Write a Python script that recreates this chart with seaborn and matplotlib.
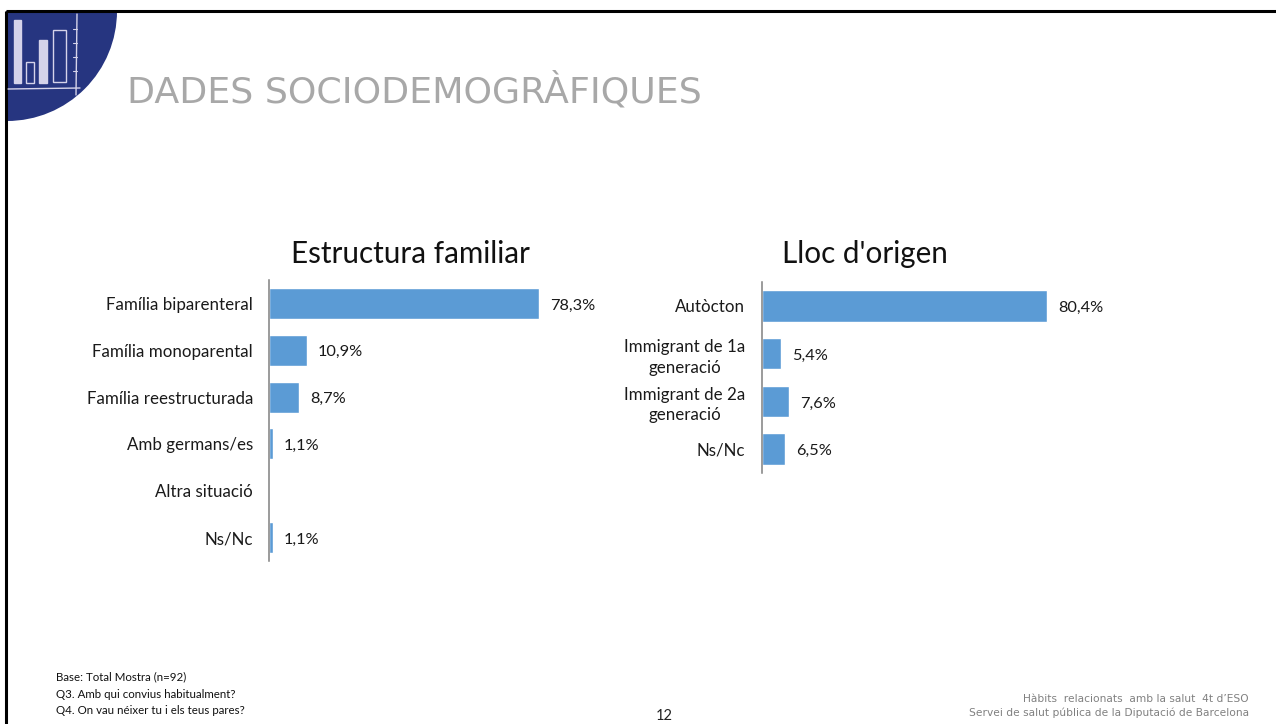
import matplotlib
matplotlib.use("Agg")
import matplotlib.pyplot as plt
from matplotlib.patches import Circle, Rectangle
import numpy as np
import pandas as pd
import seaborn as sns

familia_categories = ["Família biparenteral", "Família monoparental", "Família reestructurada",
                      "Amb germans/es", "Altra situació", "Ns/Nc"]
familia_values = [78.3, 10.9, 8.7, 1.1, np.nan, 1.1]
origen_categories = ["Autòcton", "Immigrant de 1a\ngeneració", "Immigrant de 2a\ngeneració", "Ns/Nc"]
origen_values = [80.4, 5.4, 7.6, 6.5]
title_text = "DADES SOCIODEMOGRÀFIQUES"
notes = ["Base: Total Mostra (n=92)", "Q3. Amb qui convius habitualment?", "Q4. On vau néixer tu i els teus pares?"]
footer = ["Hàbits  relacionats  amb la salut  4t d’ESO", "Servei de salut pública de la Diputació de Barcelona"]

W, H = 1276, 724
BAR = "#5B9BD5"
sns.set_theme(style="white")
plt.rcParams["font.family"] = ["Lato", "DejaVu Sans"]
fig = plt.figure(figsize=(W/100, H/100), dpi=100, facecolor="white")

def axes_px(x0, y0, x1, y1):
    return fig.add_axes([x0/W, 1-y1/H, (x1-x0)/W, (y1-y0)/H])

def chart(cats, vals, box, xmax, title, title_x, pad):
    ax = axes_px(*box)
    df = pd.DataFrame({"cat": cats, "val": vals})
    sns.barplot(data=df, y="cat", x="val", color=BAR, saturation=1, width=0.66, ax=ax, orient="h")
    ax.set_xlim(0, xmax)
    ax.set_ylim(len(cats)-0.5, -0.5)
    ax.set_xlabel(""); ax.set_ylabel("")
    ax.xaxis.set_visible(False)
    ax.patch.set_alpha(0)
    for s in ["top", "right", "bottom"]:
        ax.spines[s].set_visible(False)
    ax.spines["left"].set_color("#808080")
    ax.spines["left"].set_linewidth(1.1)
    ax.tick_params(axis="y", length=0, pad=pad, labelsize=12.2, labelcolor="#1a1a1a")
    for lab in ax.get_yticklabels():
        lab.set_horizontalalignment("right")
        lab.set_multialignment("center")
        lab.set_linespacing(1.35)
    for i, v in enumerate(vals):
        if not np.isnan(v):
            ax.annotate(f"{v:.1f}%".replace(".", ","), (v, i), xytext=(8, -1.5), textcoords="offset points",
                        va="center", ha="left", fontsize=11.8, color="#1a1a1a")
    fig.text(title_x/W, 1-254/H, title, fontsize=21.3, va="center", ha="left", color="#111111")
    return ax

chart(familia_categories, familia_values, (269, 280, 594, 561), 325/3.45, "Estructura familiar", 291, 11.5)
chart(origen_categories, origen_values, (762, 282, 1110, 473), 348/3.545, "Lloc d'origen", 782, 12.2)

# slide frame and logo in pixel coordinates
bg = fig.add_axes([0, 0, 1, 1], zorder=-1)
bg.set_xlim(0, W); bg.set_ylim(H, 0); bg.axis("off")
clip = Rectangle((6, 11), 200, 200, transform=bg.transData)
c = Circle((7, 11), 110, fc="#263580", ec="none", zorder=2)
bg.add_patch(c); c.set_clip_path(clip)
bg.plot([6, 6], [11, H], color="black", lw=2.2, zorder=3, solid_capstyle="butt")
bg.plot([6, W], [11, 11], color="black", lw=2.2, zorder=3, solid_capstyle="butt")
for x0, y0, x1, y1, fill in [(14, 20, 21, 83, True), (26, 62, 34, 83, False), (39, 40, 47, 83, True), (53, 30, 66, 82, False)]:
    bg.add_patch(Rectangle((x0, y0), x1-x0, y1-y0, fc="#D5D3EA" if fill else "none", ec="#D5D3EA", lw=1.0, zorder=4))
bg.plot([8, 80], [89, 88], color="#D5D3EA", lw=1, zorder=4)
bg.plot([77, 76], [14, 95], color="#D5D3EA", lw=1, zorder=4)
for y in [29, 43, 57, 71]:
    bg.plot([73, 77], [y, y], color="#D5D3EA", lw=0.8, zorder=4)

bg.text(127, 91, title_text, fontsize=26.2, family="DejaVu Sans", color="#A8A8A8", va="center", ha="left", zorder=5)
for y, t in zip([677, 694, 710], notes):
    bg.text(56, y, t, fontsize=8.25, color="#111111", va="center", ha="left", zorder=5)
bg.text(664, 716, "12", fontsize=10.5, color="#222222", va="center", ha="center", zorder=5)
for y, t in zip([699, 713], footer):
    bg.text(1249, y, t, fontsize=7.65, family="DejaVu Sans", color="#808080", va="center", ha="right", zorder=5)

fig.savefig("out.png", dpi=100, facecolor="white")
